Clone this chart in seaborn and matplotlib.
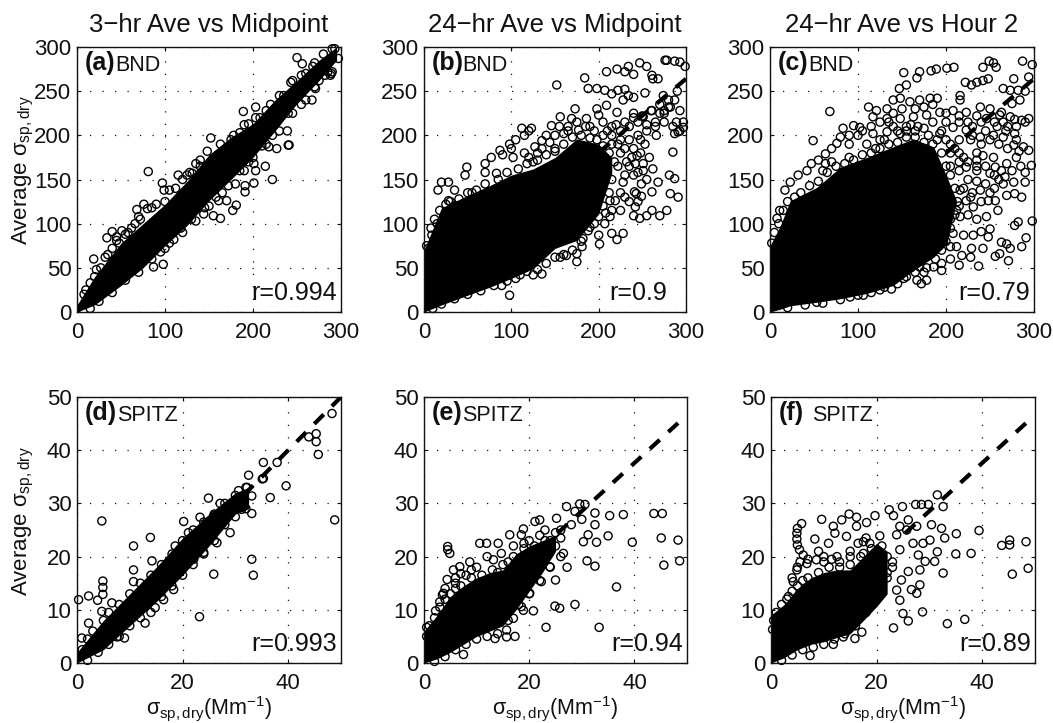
import matplotlib
matplotlib.use("Agg")
import matplotlib.pyplot as plt
import seaborn as sns
import pandas as pd

titles = ["3\u2212hr Ave vs Midpoint", "24\u2212hr Ave vs Midpoint", "24\u2212hr Ave vs Hour 2"]
letters = ["(a)", "(b)", "(c)", "(d)", "(e)", "(f)"]
sites = ["BND", "BND", "BND", "SPITZ", "SPITZ", "SPITZ"]
r_labels = ["r=0.994", "r=0.9", "r=0.79", "r=0.993", "r=0.94", "r=0.89"]

# solid black cores of overlapping circles: x, lower edge, upper edge
core_a = ([0, 20, 50, 75, 100, 125, 150, 175, 200, 225, 250, 275, 295],
          [0, 8, 30, 50, 75, 98, 126, 150, 175, 205, 236, 262, 285],
          [8, 40, 78, 100, 122, 148, 178, 198, 213, 240, 262, 285, 300])
core_b = ([0, 20, 50, 75, 100, 125, 150, 175, 200, 215],
          [0, 8, 19, 28, 38, 49, 72, 81, 111, 157],
          [70, 118, 132, 143, 155, 162, 175, 196, 190, 175])
core_c = ([0, 11, 23, 53, 80, 110, 140, 163, 186, 201, 212],
          [0, 3, 7, 11, 15, 21, 30, 47, 62, 77, 126],
          [75, 96, 126, 141, 164, 175, 187, 196, 187, 153, 126])
core_d = ([0, 5, 10, 15, 20, 25, 30, 32.5],
          [0, 2.5, 7, 11.5, 16.5, 22, 28, 29],
          [2, 8, 13, 18, 23.5, 28, 32, 33])
core_e = ([0, 2.5, 5, 7.5, 10, 12.5, 15, 17.5, 20, 22.5, 25],
          [0, 0.8, 2, 3.5, 5, 6, 7, 10, 13.5, 17, 21],
          [6, 9, 12.5, 14.5, 16, 17, 17.5, 20.5, 22, 23, 24])
core_f = ([0, 2.5, 5, 7.5, 10, 12.5, 15, 17.5, 20, 22],
          [0, 1, 2.5, 3.5, 4, 4.8, 5.5, 8, 10.6, 13],
          [9, 11, 14, 16, 17, 17.5, 17.5, 20, 22.5, 21])

# reference lines
line_a = ([0, 300], [0, 300])
line_b = ([179, 300], [163, 264])
line_c = ([200, 300], [180, 264])
line_d = ([31.6, 50], [31.6, 50])
line_e = ([25.4, 48.3], [24.4, 45.1])
line_f = ([25.4, 48.3], [24.4, 45.1])

pts_a = [(19,60),(34,84),(40,91),(51,92),(45,81),(66,100),(68,116),(76,122),(81,159),(97,146),(99,138),(115,155),
(152,197),(131,157),(140,172),(87,51),(98,54),(163,106),(155,109),(144,111),(161,126),(170,126),(177,115),(181,121),
(191,136),(191,143),(201,146),(203,160),(214,165),(222,150),(189,227),(203,232),(250,288),(256,281),(271,253),(288,268),
(297,287),(293,298),(240,189),(239,205),(218,187),(227,185),(241,189),(201,168),(267,240),(290,272),
(10,25),(15,33),(20,40),(27,50),(35,65),(40,72),(48,78),(55,88),(62,95),(72,105),(80,117),(90,122),(105,138),(120,150),
(128,158),(140,165),(160,178),(175,195),(185,203),(195,213),(208,220),(220,235),(235,245),(243,260),(260,270),(270,282),
(280,292),(290,298),(30,22),(50,38),(60,45),(65,50),(80,65),(100,72),(110,82),(120,90),(135,103),(150,120),(165,135),
(180,145),(190,160),(200,175),(215,190),(230,205),(245,225),(260,240),(275,262),(285,272),(289,270)]
rim_a = [(8,20),(22,48),(32,62),(45,85),(58,90),(70,108),(85,118),(100,125),(112,140),(125,155),(135,168),(148,182),(163,190),
(178,200),(190,212),(203,220),(215,228),(230,245),(245,262),(255,268),(268,278),(15,4),(25,12),(40,22),(55,36),(70,45),(85,60),
(95,68),(105,78),(118,95),(130,105),(145,118),(158,130),(172,143),(185,160),(195,170),(210,188),(222,200),(240,225),(255,235),
(270,255),(282,268)]

pts_b = [(98,19),(152,257),(184,265),(209,272),(221,275),(230,272),(234,278),(240,269),(247,282),(255,278),(261,268),(262,264),
(268,264),(276,285),(278,285),(287,284),(293,283),(299,278),(188,253),(198,253),(207,251),(215,247),(222,251),(230,252),
(240,243),(253,248),(285,181),(291,130),(282,134),(281,155),(287,151),(268,147),(261,136),(249,145),(243,134),(249,131),
(242,119),(240,109),(247,106),(255,109),(261,115),(270,109),(278,115),(228,89),(221,82),(215,89),(201,77),(200,87),(207,100),
(213,108),(16,138),(20,147),(28,147),(35,138),(49,164),(47,155),(70,168),(77,175),(87,183),(98,190),(112,208),(123,208),
(135,194),(146,211),(156,221),(169,219),(173,230),(186,219),(198,230),(209,234),(221,226),(28,126),(15,100),(9,87),(5,72),
(70,158),(83,157),(102,175),(127,187),(144,192),(160,202),(177,206),(89,30),(125,42),(135,43),(156,62),(163,64),(175,57),
(175,66),(181,74),(182,83),(190,96),(110,42),(213,126),(219,126),(230,130),(241,136),(228,147),(240,155),(251,160),(242,168),
(251,168),(244,177),(253,190),(266,200),(291,204),(297,209),(289,215),(297,215),(287,202),(282,232),(287,240),(293,228),
(274,245),(261,228),(251,221),(240,225),(228,240),(234,245),(200,223),(210,205),(220,212),(230,215),(240,220),(250,222),
(260,228),(270,235),(280,240),(290,250),(215,210),(225,205),(235,195),(245,200),(255,205),(265,215),(275,225),(215,190),
(225,180),(232,170),(240,185),(248,195),(222,165),(230,155),(35,120),(55,135),(120,175),(130,180),(150,185),(165,205),(190,210),(205,215)]
rim_b = [(3,75),(8,95),(12,105),(18,115),(25,122),(30,125),(40,128),(50,135),(60,138),(70,145),(85,150),(95,158),(108,162),(118,168),
(130,172),(140,178),(150,182),(160,190),(170,198),(180,200),(190,197),(198,195),(205,188),(212,180),(218,170),(215,150),(212,135),
(205,120),(200,108),(195,100),(188,92),(180,80),(170,70),(160,65),(150,62),(140,55),(130,48),(118,46),(105,38),(95,35),(80,30),
(65,24),(50,20),(35,15),(20,9),(10,4),(125,170),(115,180),(100,185),(90,178),(105,195),(115,200),(120,205),(135,185),(150,200),
(140,200),(155,210),(165,210),(175,215),(185,210),(195,205),(205,200),(215,200),(225,195),(235,210),(245,215),(255,212),(265,210),
(275,215),(285,210),(293,205),(270,225),(280,232),(222,190),(230,185),(238,175),(248,180),(258,175),(235,165),(245,158),(255,150),
(262,162),(225,135),(235,125),(225,115),(215,115),(208,112),(245,125),(275,228)]

pts_c = [(68,227),(49,194),(8,106),(152,271),(155,257),(167,265),(170,272),(183,273),(189,275),(201,276),(209,277),(242,277),
(249,284),(254,282),(257,277),(287,284),(298,280),(294,266),(235,260),(222,260),(216,245),(216,240),(229,257),(242,262),(248,264),
(265,253),(273,251),(277,264),(282,251),(290,250),(284,240),(275,236),(147,253),(140,240),(148,242),(159,238),(170,240),(182,242),
(190,242),(112,232),(121,228),(133,230),(117,221),(133,219),(148,219),(163,221),(178,223),(193,226),(208,228),(223,226),(239,232),
(250,230),(263,226),(273,221),(286,217),(294,219),(261,223),(246,219),(102,209),(95,211),(83,208),(80,198),(76,191),(63,179),(55,172),
(47,168),(42,160),(32,155),(23,147),(17,138),(11,115),(63,168),(117,202),(133,204),(148,202),(193,202),(208,209),(223,206),(239,198),
(254,200),(265,198),(278,202),(277,189),(288,187),(294,183),(297,166),(290,158),(280,175),(269,168),(254,175),(242,177),(235,172),
(220,175),(223,164),(235,160),(250,157),(263,160),(277,147),(290,147),(286,130),(278,134),(269,132),(267,153),(256,164),(239,138),
(248,126),(256,126),(259,115),(246,108),(216,138),(223,126),(231,119),(216,108),(208,89),(220,87),(231,87),(240,91),(250,94),(248,85),
(242,72),(229,72),(212,74),(205,74),(218,64),(228,62),(215,53),(237,52),(256,63),(261,66),(263,79),(269,77),(271,58),(273,72),(286,74),
(291,84),(298,103),(282,102),(278,98),(195,47),(186,51),(178,36),(172,32),(167,36),(152,38),(138,26),(106,19),(91,17),(125,25),(53,11),
(170,51),(110,190),(125,195),(140,210),(160,212),(175,208),(200,215),(215,215),(230,210),(245,205),(258,210),(268,205),(215,195),(228,195),
(210,185),(225,150),(235,148),(245,145),(255,140),(215,160),(205,165),(230,135),(212,115),(205,105),(200,195),(185,215),(168,210),
(155,205),(100,200),(90,190),(135,215),(60,160),(70,170),(90,175)]
rim_c = [(2,78),(5,90),(10,100),(15,115),(20,125),(28,130),(35,135),(45,143),(55,148),(65,158),(75,165),(85,168),(95,172),(105,178),
(115,180),(125,185),(135,190),(145,192),(155,198),(165,198),(175,192),(185,190),(195,180),(200,165),(205,155),(210,140),(213,125),
(210,110),(205,95),(200,80),(195,70),(188,60),(178,50),(165,45),(155,40),(145,32),(130,28),(115,22),(100,19),(80,14),(60,10),(40,8),
(20,5),(120,185),(130,195),(145,205),(155,210),(165,205),(180,200),(190,195),(205,190),(215,180),(225,170),(235,165),(245,165),(255,155),
(265,145),(215,170),(205,180),(195,205),(220,140),(228,130),(240,125),(250,135),(260,150),(275,160),(285,165),(270,185),(260,190),
(250,195),(240,190),(230,200),(225,215),(240,215),(255,215),(270,210),(280,210),(290,215),(278,218),(265,215),(235,180),(215,120),
(225,110),(235,105),(205,60),(195,55),(175,45),(160,50),(70,185),(90,200),(105,205),(115,210),(125,215),(140,225),(150,230),(165,230),
(175,232),(185,235),(200,225),(215,222),(235,222),(280,195),(283,182)]

pts_d = [(0.3,11.9),(2.2,12.6),(3.9,11.8),(4.9,12.9),(4.9,14.2),(4.9,15.4),(4.7,26.7),(10.7,22),(10.7,17.5),(10.7,15.3),(13.9,23.6),
(14.2,19.2),(12.9,7.5),(9,4.7),(7.6,4.9),(23.2,8.7),(25.9,16.7),(33.4,16.5),(33.1,19.5),(33.1,28.1),(36.6,31.1),(39.6,33.3),(35.3,34.7),
(35.3,37.7),(37.9,37.7),(43.9,42.5),(45.3,43.1),(45.3,41.6),(45.7,39.2),(48.3,46.9),(48.8,26.9),(32.5,35.3),(32.2,33),(24.9,31),(27.1,30),
(23.3,27.4),(20.2,26.6),(21.1,24.5),(25.9,27.7),(18.6,22),(16.4,14.5),(18.3,13.8),(16.4,11.9),(14.8,10.4),(29,24.5),(26.5,22.6),(24,20.8),
(22.1,19.5),(31.2,28.9),(33.1,31.4),(30.6,32.4),(4.7,9.7),(6.6,11.3),(2.2,7.5),(0.9,4.7),(35.1,34.6)]
rim_d = [(1,2.5),(2,4.5),(3,6),(5,8),(6,9.5),(8,11),(10,13),(12,15),(14,16.5),(16,18.5),(18,20.5),(20,23),(22,25),(24,26.5),(26,28),
(28,30),(30,31.5),(32,33),(2,0.5),(4,2),(6,3.5),(8,5),(10,7),(12,8.5),(14,9.5),(16,12.5),(18,14.5),(20,16.5),(22,18.5),(24,20.5),
(26,23),(28,26),(30,27.5),(32,29)]

pts_e = [(0.5,6.7),(2.2,9.8),(4.5,21.9),(4.5,21.3),(4.9,20.6),(4.4,15.7),(3.7,13.1),(5.6,17.5),(6.8,18.1),(8.7,19),(10.6,22.5),(11.9,22.5),
(14.1,22.5),(16.3,24.1),(18.5,24.1),(18.9,25.2),(21.1,26.6),(22,26.9),(25.2,27.2),(27.1,29.4),(29.6,29.9),(30.6,29.8),(28.7,28.5),(32.5,28.2),
(35.3,27.7),(37.9,27.9),(43.7,28.1),(45.3,28.1),(45.1,23.5),(48.3,23.1),(48.6,19.2),(45.6,18.4),(39.6,22.7),(35,23.9),(32.8,22.7),(30.3,22.8),
(31.2,24.1),(32.5,26),(31,19.2),(32.5,18.2),(27.2,18),(25,15.6),(36.6,14.3),(33.3,6.7),(28.7,11),(24.9,10.7),(25.8,10.3),(23.2,6.7),(20.8,9.8),
(18.9,9.9),(17.3,5),(15.7,4.9),(15.7,6.2),(7.5,1.6),(20.1,13.1),(22.3,15.3),(26.5,20.6),(23.9,18.1),(13.5,4.6),(17,8.4),(18.5,10.6),(13.2,19.4),
(14.7,20.6),(26,25),(28,26),(30,27),(24,23),(22,24),(20,23),(12,20),(8,16.5),(6,15)]
rim_e = [(0.5,5),(1,7),(2,8.5),(3,10.5),(4,12),(5,13),(6,14),(7,14.5),(9,16),(11,16.5),(13,17.5),(15,18.5),(17,20),(19,21.5),(21,22),(23,23),
(25,24.5),(26,23.5),(2,0.3),(4,1.2),(6,2.5),(8,3.5),(10,4.5),(12,5),(14,5.5),(16,8),(18,11),(20,13),(22,15.5),(24,18),(26,20),(11,15),(14,17),
(3,11.5),(3.5,12.8),(4,14),(6,16),(7,16.8),(9,17.5),(10,18),(13,15),(16,19),(17,22),(19,22.5),(23,25),(25,22)]

pts_f = [(0.3,6.3),(5.8,26.2),(5,25.3),(4.9,24.4),(4.9,23.3),(5,22.2),(5.4,21.3),(6.1,20.3),(8.3,23.3),(9.6,27),(13.4,26.9),(14.8,28),(16.2,27.4),
(18.1,26.4),(19.7,27.7),(20.6,23.9),(12.1,24.4),(10.9,22.5),(16.2,25.7),(17.5,22.8),(22.4,28.8),(23.2,27.7),(24.9,29.4),(27.4,29.8),(28.5,29.8),
(29.8,29.8),(31.5,31.6),(32.6,29.4),(32.3,25.3),(32.9,23.5),(32.6,16.9),(31,19.1),(31.5,20.9),(30.1,23.1),(35.1,24.3),(39.4,24.9),(35,20.5),
(37.9,20.6),(43.7,22.1),(45.2,23.1),(45.2,22.2),(48.3,22.8),(48.7,17.8),(45.7,16.7),(36.7,8.2),(33.4,7.4),(28.7,9.6),(23.2,6.6),(26,7.9),(25,9.3),
(24.4,11.8),(23.8,13.7),(27.6,13.1),(26.6,13.8),(28.2,14.7),(24.7,15.6),(26,17.2),(28.2,17.5),(29.2,19.1),(27.9,20.3),(24.4,21.3),(23.8,24.1),
(25.7,25),(27.6,25.7),(24.4,25.7),(26,26.9),(28.8,22.5),(30.4,26),(26.9,22.5),(7.4,1.4),(15.9,4.6),(17.2,5.8),(13.7,4.9),(11.8,3.5),(11.8,25.7),
(14.3,23.8),(18.7,22.5),(17.5,20.6),(8.6,19.4),(4.2,15.3),(4.9,17.5),(6.8,18.7),(3.3,12.5),(12.5,20),(15,21),(10,19),(22,17),(23,19)]
rim_f = [(0.5,8),(1,9.5),(2,11),(3,12),(4,13.5),(5,14.5),(6,15.5),(7,16),(9,17),(11,18),(13,18),(15,18.5),(17,20),(19,21.5),(21,22),(22,20),
(23,18),(22,16),(21,14),(20,12),(18,9.5),(16,7),(14,5.5),(12,4.5),(10,3.5),(8,3),(6,2.5),(4,1.5),(2,0.5),(4,16),(5,18),(5.5,19),(7,19.5),(9,21),
(10,20),(11.5,19.5),(13,19),(15,20),(16.5,22.5),(18,23.5)]

sns.set_style("white")
plt.rcParams["font.family"] = ["Liberation Sans", "DejaVu Sans"]
plt.rcParams["mathtext.fontset"] = "custom"
plt.rcParams["mathtext.rm"] = "Liberation Sans"
plt.rcParams["mathtext.it"] = "Liberation Sans"
plt.rcParams["mathtext.bf"] = "Liberation Sans:bold"

W, H = 1053, 723
INK = "#111111"
boxes = [(77, 47, 341, 312), (424, 47, 686, 312), (770, 47, 1034, 312),
         (77, 397, 341, 663), (424, 397, 687, 663), (771, 397, 1035, 663)]
cores = [core_a, core_b, core_c, core_d, core_e, core_f]
lines = [line_a, line_b, line_c, line_d, line_e, line_f]
points = [pts_a + rim_a, pts_b + rim_b, pts_c + rim_c, pts_d + rim_d, pts_e + rim_e, pts_f + rim_f]
site_x = [0.145, 0.145, 0.145, 0.15, 0.145, 0.155]
r_x = [0.985, 0.927, 0.985, 0.985, 0.985, 0.985]

fig = plt.figure(figsize=(W / 100, H / 100), dpi=100, facecolor="white")
for i, box in enumerate(boxes):
    l, t, r, b = box
    ax = fig.add_axes([l / W, 1 - b / H, (r - l) / W, (b - t) / H])
    top = i < 3
    lim = 300 if top else 50
    ax.set_xlim(0, lim)
    ax.set_ylim(0, lim)
    ax.set_xticks([0, 100, 200, 300] if top else [0, 20, 40])
    ax.set_yticks([0, 50, 100, 150, 200, 250, 300] if top else [0, 10, 20, 30, 40, 50])
    ax.grid(True, color=INK, linewidth=0.9, linestyle=(0, (1, 9)))
    ax.set_axisbelow(True)
    ax.tick_params(direction="in", length=3, width=0.8, top=True, right=True,
                   bottom=True, left=True, labelsize=16, color=INK, labelcolor=INK)
    ax.tick_params(axis="x", pad=7)
    ax.tick_params(axis="y", pad=4)
    for s in ax.spines.values():
        s.set_linewidth(1.0)
        s.set_color(INK)
        s.set_visible(True)
        s.set_zorder(6)

    cx, lo, hi = cores[i]
    ax.fill_between(cx, lo, hi, color="black", linewidth=0, zorder=3)
    lx, ly = lines[i]
    sns.lineplot(x=lx, y=ly, ax=ax, color="black", linewidth=3, zorder=3.5,
                 linestyle=(0, (3.2, 2.8)), errorbar=None, legend=False, sort=False)
    df = pd.DataFrame(points[i], columns=["x", "y"])
    sns.scatterplot(data=df, x="x", y="y", ax=ax, s=34, facecolor="none",
                    edgecolor="black", linewidth=1.0, zorder=4, clip_on=False, legend=False)
    ax.set_xlabel("")
    ax.set_ylabel("")

    if top:
        ax.set_title(titles[i], fontsize=18.5, color=INK, pad=11)
    else:
        ax.set_xlabel(r"$\sigma_{\mathrm{sp,dry}}$(Mm$^{-1}$)", fontsize=15.5, color=INK, labelpad=0)
    if i in (0, 3):
        ax.set_ylabel(r"Average $\sigma_{\mathrm{sp,dry}}$", fontsize=16, color=INK)
        ax.yaxis.set_label_coords(-0.155, 0.535)

    ax.text(0.03, 0.985, letters[i], transform=ax.transAxes, fontsize=18, fontweight="bold",
            va="top", ha="left", color=INK, zorder=7)
    ax.text(site_x[i], 0.97, sites[i], transform=ax.transAxes, fontsize=15.5,
            va="top", ha="left", color=INK, zorder=7)
    ax.text(r_x[i], 0.025, r_labels[i], transform=ax.transAxes, fontsize=18,
            va="bottom", ha="right", color=INK, zorder=7)

fig.savefig("out.png", dpi=100, facecolor="white")
